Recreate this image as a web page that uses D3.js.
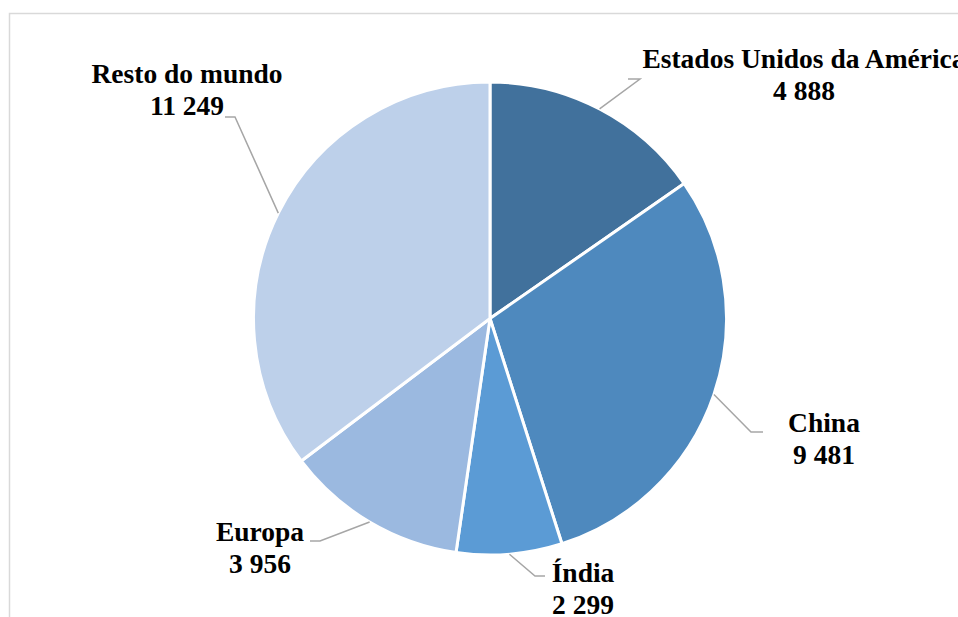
<!DOCTYPE html>
<html>
<head>
<meta charset="utf-8">
<script src="https://cdn.jsdelivr.net/npm/d3@7"></script>
<style>
  html, body { margin: 0; padding: 0; background: #fff; overflow: hidden; }
  svg { display: block; }
  .lbl { font-family: "Liberation Serif", "Times New Roman", serif; font-weight: bold; font-size: 27.5px; fill: #000; }
</style>
</head>
<body>
<svg id="chart" width="958" height="617"></svg>
<script>
// Regions and their values
const regions = ["Estados Unidos da América", "China", "Índia", "Europa", "Resto do mundo"];
const values = [4888, 9481, 2299, 3956, 11249];
const valueLabels = ["4 888", "9 481", "2 299", "3 956", "11 249"];
const colors = ["#41719c", "#4e89be", "#5b9bd5", "#9bb9e0", "#bdd0ea"];

const width = 958, height = 617;
const cx = 490, cy = 318.5, radius = 236.5;

// Label layout: elbow of the leader line, end of its short horizontal run,
// and centre/baseline of the two-line label (relative to the pie centre).
const labelLayout = [
  { knee: [150, -239.5], end: [138, -239.5], text: [314, -250.5] },
  { knee: [261, 113.5],  end: [273, 113.5],  text: [334, 113.5] },
  { knee: [45, 257.5],   end: [55, 257.5],   text: [93, 263.5] },
  { knee: [-170, 222.5], end: [-180, 222.5], text: [-230, 222.5] },
  { knee: [-255, -201.5],end: [-265, -201.5],text: [-303, -235.5] }
];
const lineGap = 32;

const svg = d3.select("#chart");

// Chart frame (extends past the visible area on the right and bottom)
svg.append("rect")
  .attr("x", 9.5).attr("y", 13.5)
  .attr("width", 1000).attr("height", 700)
  .attr("fill", "#fff")
  .attr("stroke", "#d9d9d9")
  .attr("stroke-width", 1.5);

const data = regions.map((r, i) => ({ region: r, value: values[i], label: valueLabels[i], color: colors[i], layout: labelLayout[i] }));

const pie = d3.pie().value(d => d.value).sort(null);
const arc = d3.arc().innerRadius(0).outerRadius(radius);
const arcs = pie(data);

const g = svg.append("g").attr("transform", `translate(${cx},${cy})`);

g.selectAll("path.slice")
  .data(arcs)
  .join("path")
  .attr("class", "slice")
  .attr("d", arc)
  .attr("fill", d => d.data.color)
  .attr("stroke", "#fff")
  .attr("stroke-width", 3)
  .attr("stroke-linejoin", "round");

// Leader lines from slice edge at mid-angle
g.selectAll("polyline.leader")
  .data(arcs)
  .join("polyline")
  .attr("class", "leader")
  .attr("fill", "none")
  .attr("stroke", "#a6a6a6")
  .attr("stroke-width", 1.5)
  .attr("points", d => {
    const a = (d.startAngle + d.endAngle) / 2;
    const p0 = [radius * Math.sin(a), -radius * Math.cos(a)];
    const L = d.data.layout;
    return [p0, L.knee, L.end].map(p => p.join(",")).join(" ");
  });

// Labels: region name and value
const labels = g.selectAll("text.lbl")
  .data(arcs)
  .join("text")
  .attr("class", "lbl")
  .attr("text-anchor", "middle");

labels.append("tspan")
  .attr("x", d => d.data.layout.text[0])
  .attr("y", d => d.data.layout.text[1])
  .text(d => d.data.region);

labels.append("tspan")
  .attr("x", d => d.data.layout.text[0])
  .attr("y", d => d.data.layout.text[1] + lineGap)
  .text(d => d.data.label);
</script>
</body>
</html>
